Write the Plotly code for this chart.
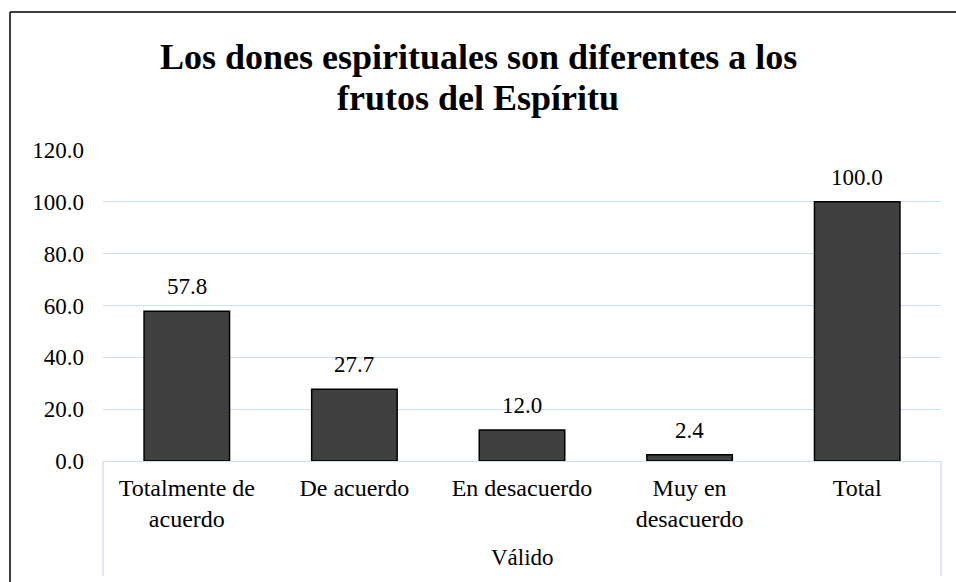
import plotly.graph_objects as go

categories = ["Totalmente de<br>acuerdo", "De acuerdo", "En desacuerdo", "Muy en<br>desacuerdo", "Total"]
values = [57.8, 27.7, 12.0, 2.4, 100.0]
group_label = "Válido"
title_lines = ["Los dones espirituales son diferentes a los", "frutos del Espíritu"]
y_ticks = [0, 20, 40, 60, 80, 100, 120]

FONT = "Liberation Serif, Times New Roman, serif"
GRID = "#CFDDF1"

L, R, T, B, W, H = 103, 15, 150, 121, 956, 582
pw, ph = W - L - R, H - T - B
def px(xp):
    return (xp - L) / pw
def py(yp):
    return (H - B - yp) / ph

fig = go.Figure()
fig.add_trace(go.Bar(
    x=categories, y=values,
    marker=dict(color="#404040", line=dict(color="#000000", width=1.5)),
    hoverinfo="skip",
))

annotations = []
for c, v in zip(categories, values):
    annotations.append(dict(x=c, y=v, xref="x", yref="y", text=f"{v:.1f}",
                            showarrow=False, yanchor="bottom", yshift=10,
                            font=dict(family=FONT, size=23, color="#000000")))
annotations.append(dict(x=0.5, y=py(557), xref="paper", yref="paper", text=group_label,
                        showarrow=False, xanchor="center", yanchor="middle",
                        font=dict(family=FONT, size=23, color="#000000")))
for t, yc in zip(title_lines, [57, 98]):
    annotations.append(dict(x=px(478), y=py(yc), xref="paper", yref="paper", text=f"<b>{t}</b>",
                            showarrow=False, xanchor="center", yanchor="middle",
                            font=dict(family=FONT, size=36, color="#000000")))

shapes = [
    dict(type="line", xref="paper", yref="paper", x0=px(10), x1=px(10), y0=py(12), y1=py(590),
         line=dict(color="#000000", width=1.5)),
    dict(type="line", xref="paper", yref="paper", x0=px(10), x1=px(960), y0=py(12), y1=py(12),
         line=dict(color="#000000", width=1.5)),
    dict(type="line", xref="paper", yref="paper", x0=0, x1=0, y0=0, y1=py(576),
         line=dict(color=GRID, width=1.3)),
    dict(type="line", xref="paper", yref="paper", x0=1, x1=1, y0=0, y1=py(576),
         line=dict(color=GRID, width=1.3)),
]

fig.update_layout(
    width=W, height=H,
    margin=dict(l=L, r=R, t=T, b=B),
    paper_bgcolor="white", plot_bgcolor="white",
    showlegend=False,
    bargap=0.49,
    annotations=annotations,
    shapes=shapes,
    font=dict(family=FONT, size=23, color="#000000"),
    xaxis=dict(showgrid=False, showline=True, linecolor=GRID, linewidth=1.3,
               ticks="", tickfont=dict(family=FONT, size=24, color="#000000"),
               ticklabelstandoff=5, fixedrange=True),
    yaxis=dict(range=[0, 120], tickvals=y_ticks, tickformat=".1f",
               showgrid=True, gridcolor=GRID, gridwidth=1.3, zeroline=False,
               showline=False, ticks="", ticklabelstandoff=18,
               tickfont=dict(family=FONT, size=23, color="#000000"), fixedrange=True),
)

fig.write_html("out.html", config={"displayModeBar": False},
               post_script="document.body.style.margin='0';document.body.style.overflow='hidden';")
